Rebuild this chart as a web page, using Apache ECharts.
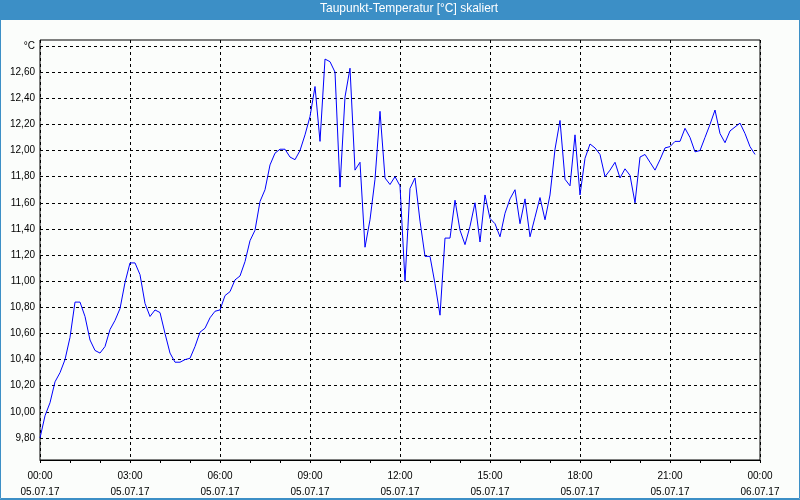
<!DOCTYPE html>
<html>
<head>
<meta charset="utf-8">
<script src="https://cdn.jsdelivr.net/npm/echarts@6/dist/echarts.min.js"></script>
<style>
html,body{margin:0;padding:0;background:#fbfdfb;}
#c{width:800px;height:500px;}
</style>
</head>
<body>
<div id="c"></div>
<script>
// Title and labels
const titleText = 'Taupunkt-Temperatur [°C] skaliert';
const unitLabel = '°C';
const dateStart = '05.07.17';
const dateEnd = '06.07.17';
// Sample step in minutes (one reading every 10 minutes, 00:00 .. 23:50)
const stepMinutes = 10;
// Dew point values [°C]
const dewPoint = [
  9.80, 9.97, 10.07, 10.23, 10.30, 10.40, 10.57, 10.84, 10.84, 10.73,
  10.55, 10.47, 10.45, 10.50, 10.63, 10.70, 10.79, 10.99, 11.14, 11.14,
  11.05, 10.83, 10.73, 10.78, 10.76, 10.60, 10.45, 10.38, 10.38, 10.40,
  10.41, 10.50, 10.61, 10.64, 10.72, 10.77, 10.78, 10.89, 10.92, 11.01,
  11.04, 11.15, 11.31, 11.39, 11.61, 11.70, 11.89, 11.98, 12.01, 12.01,
  11.95, 11.93, 12.00, 12.12, 12.26, 12.49, 12.07, 12.70, 12.68, 12.60,
  11.72, 12.41, 12.63, 11.85, 11.91, 11.26, 11.47, 11.78, 12.30, 11.79,
  11.74, 11.80, 11.73, 11.00, 11.71, 11.79, 11.46, 11.19, 11.19, 10.98,
  10.74, 11.33, 11.33, 11.62, 11.39, 11.28, 11.42, 11.60, 11.30, 11.66,
  11.48, 11.44, 11.34, 11.52, 11.63, 11.70, 11.44, 11.63, 11.34, 11.49,
  11.64, 11.47, 11.66, 12.01, 12.23, 11.78, 11.73, 12.12, 11.66, 11.94,
  12.05, 12.02, 11.97, 11.80, 11.85, 11.91, 11.79, 11.86, 11.81, 11.60,
  11.95, 11.97, 11.91, 11.85, 11.93, 12.02, 12.03, 12.07, 12.07, 12.17,
  12.10, 11.99, 12.00, 12.10, 12.20, 12.31, 12.13, 12.06, 12.15, 12.18,
  12.21, 12.13, 12.03, 11.97
];
// Axis ranges
const xMinMinutes = 0, xMaxMinutes = 1440, xLabelInterval = 180;
const yMin = 9.8, yMax = 12.8, yInterval = 0.2;

const seriesData = dewPoint.map((v, i) => [i * stepMinutes, v]);

function pad(n){ return (n < 10 ? '0' : '') + n; }
function xLabel(v){
  const h = Math.floor(v / 60) % 24, m = v % 60;
  const d = v >= 1440 ? dateEnd : dateStart;
  return pad(h) + ':' + pad(m) + '\n' + d;
}
function yLabel(v){
  if (Math.abs(v - yMax) < 1e-6) return unitLabel;
  return v.toFixed(2).replace('.', ',');
}

const font = '"Liberation Sans", Arial, sans-serif';
const chart = echarts.init(document.getElementById('c'), null, {renderer: 'canvas'});
chart.setOption({
  backgroundColor: '#fbfdfb',
  animation: false,
  graphic: [
    {type: 'rect', shape: {x: 0, y: 0, width: 800, height: 20}, style: {fill: '#3c8fc6'}, z: 10},
    {type: 'text', left: 320, top: 3, style: {text: titleText, fill: '#ffffff', font: '12px ' + font}, z: 11},
    {type: 'rect', shape: {x: 0.5, y: 0.5, width: 799, height: 498}, style: {fill: 'none', stroke: '#3c8fc6', lineWidth: 1}, z: 10},
    {type: 'line', shape: {x1: 0, y1: 499.5, x2: 800, y2: 499.5}, style: {stroke: '#3c8fc6', lineWidth: 1}, z: 10}
  ],
  grid: [
    {left: 40, top: 40, width: 720, height: 420, show: true, borderColor: '#000', borderWidth: 1, backgroundColor: 'transparent', containLabel: false},
    {left: 40, top: 46, width: 720, height: 392, containLabel: false}
  ],
  xAxis: [
    {
      gridIndex: 0, type: 'value', min: xMinMinutes, max: xMaxMinutes, interval: xLabelInterval,
      axisLine: {show: true, lineStyle: {color: '#000', width: 1}},
      axisTick: {show: true, inside: false, length: 3, lineStyle: {color: '#000'}},
      minorTick: {show: true, splitNumber: 3, length: 3, lineStyle: {color: '#000'}},
      splitLine: {show: true, lineStyle: {color: '#000', type: [3, 3], width: 1}},
      axisLabel: {formatter: xLabel, color: '#000', fontFamily: font, fontSize: 10, lineHeight: 16, margin: 8, showMinLabel: true, showMaxLabel: true}
    },
    {gridIndex: 1, type: 'value', min: xMinMinutes, max: xMaxMinutes, show: false}
  ],
  yAxis: [
    {gridIndex: 0, type: 'value', min: 0, max: 1, show: false, splitLine: {show: false}},
    {
      gridIndex: 1, type: 'value', min: yMin, max: yMax, interval: yInterval,
      axisLine: {show: false}, axisTick: {show: false},
      splitLine: {show: true, lineStyle: {color: '#000', type: [3, 3], width: 1}},
      axisLabel: {formatter: yLabel, color: '#000', fontFamily: font, fontSize: 10, margin: 5, showMinLabel: true, showMaxLabel: true}
    }
  ],
  series: [{
    type: 'line', xAxisIndex: 1, yAxisIndex: 1, data: seriesData,
    showSymbol: false, symbol: 'none', smooth: false, clip: false,
    lineStyle: {color: '#0000ff', width: 1}
  }]
});
</script>
</body>
</html>
